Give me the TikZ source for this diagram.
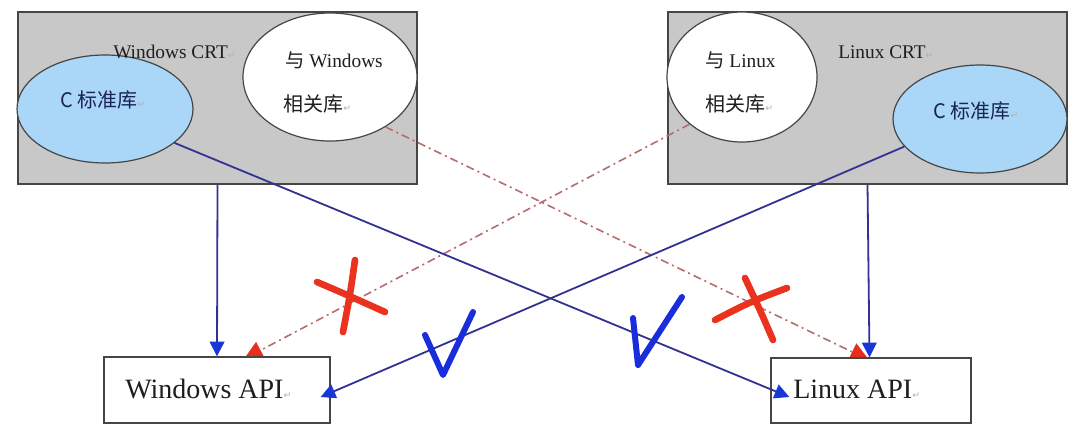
\documentclass[tikz,border=0pt]{standalone}
\usepackage{fontspec}
\setmainfont{Liberation Serif}
\newfontfamily\cjk{Noto Sans CJK SC}
\newfontfamily\dvsans{DejaVu Sans}
\usetikzlibrary{arrows.meta,calc,shapes.geometric}
\definecolor{boxgray}{RGB}{200,200,200}
\definecolor{ellblue}{RGB}{170,214,247}
\definecolor{linkblue}{RGB}{50,50,145}
\definecolor{tipblue}{RGB}{25,55,215}
\definecolor{markblue}{RGB}{25,45,220}
\definecolor{markred}{RGB}{235,50,30}
\definecolor{dashred}{RGB}{180,110,110}
\definecolor{tipred}{RGB}{230,45,30}
\definecolor{edgegray}{RGB}{70,70,70}
\definecolor{txt}{RGB}{30,30,30}
\definecolor{navytxt}{RGB}{25,35,85}
\newcommand\parmk{{\dvsans\fontsize{7}{7}\selectfont\textcolor{gray!60}{↵}}}
\tikzset{
  crtbox/.style={draw=edgegray, fill=boxgray, line width=1.1pt, minimum width=299.25pt, minimum height=129pt, inner sep=0pt},
  libell/.style={ellipse, draw=edgegray, line width=0.9pt, inner sep=0pt},
  apibox/.style={draw=edgegray, fill=white, line width=1pt, inner sep=0pt},
  lbl/.style={anchor=base west, inner sep=0pt, text=txt, font=\fontsize{14.5}{16}\selectfont},
  cjklbl/.style={anchor=base west, inner sep=0pt, text=txt, font=\fontsize{15}{17}\selectfont},
  apilbl/.style={anchor=base west, inner sep=0pt, text=txt, font=\fontsize{21}{24}\selectfont},
  bluelink/.style={draw=linkblue, line width=1.35pt, -{Triangle[length=11pt,width=11pt,fill=tipblue,color=tipblue]}},
  redlink/.style={draw=dashred, line width=1.2pt, dash pattern=on 6pt off 3pt on 1.5pt off 3pt, -{Triangle[length=14pt,width=14pt,fill=tipred,color=tipred]}},
  redmark/.style={draw=markred, line width=5pt, line cap=round, line join=round},
  bluemark/.style={draw=markblue, line width=4.5pt, line cap=round, line join=round}
}
\begin{document}
\begin{tikzpicture}[x=0.75pt,y=-0.75pt]
\useasboundingbox[fill=white] (0,0) rectangle (1080,424);
% CRT boxes
\node[crtbox] (lcrt) at (217.5,98) {};
\node[crtbox] (rcrt) at (867.5,98) {};
% ellipses
\node[libell, fill=ellblue, minimum width=132pt, minimum height=81pt] (lblue) at (105,109) {};
\node[libell, fill=white, minimum width=130.5pt, minimum height=96pt] (lwhite) at (330,77) {};
\node[libell, fill=white, minimum width=112.5pt, minimum height=97.5pt] (rwhite) at (742,77) {};
\node[libell, fill=ellblue, minimum width=130.5pt, minimum height=81pt] (rblue) at (980,119) {};
% labels in top
\node[lbl] (lcrtt) at (113,59) {Windows CRT\parmk};
\node[lbl] (rcrtt) at (838,59) {Linux CRT\parmk};
\node[lbl] (lwt1) at (285,68) {{\cjk 与} Windows};
\node[cjklbl] (lwt2) at (283,112) {{\cjk 相关库}\parmk};
\node[lbl] (rwt1) at (705,68) {{\cjk 与} Linux};
\node[cjklbl] (rwt2) at (705,112) {{\cjk 相关库}\parmk};
\node[cjklbl, text=navytxt] (lbt) at (60,108) {{\cjk C 标准库}\parmk};
\node[cjklbl, text=navytxt] (rbt) at (933,118) {{\cjk C 标准库}\parmk};
% red dash-dot links (under the API boxes)
\coordinate (wapin) at (217,357);
\coordinate (lapin) at (871,358);
\draw[redlink] (rwhite.-138) -- ($(wapin)+(27,2)$);
\draw[redlink] (lwhite.-42) -- ($(lapin)+(-2,2)$);
% API boxes
\node[apibox, minimum width=169.5pt, minimum height=49.5pt] (wapi) at (217,390) {};
\node[apibox, minimum width=150pt, minimum height=48.75pt] (lapi) at (871,390.5) {};
\node[apilbl] (wapit) at (125,398) {Windows API\parmk};
\node[apilbl] (lapit) at (793,398) {Linux API\parmk};
% blue links
\draw[bluelink] (lcrt.south) -- (wapi.north);
\draw[bluelink] (rcrt.south) -- ($(lapi.north)+(-1.5,0)$);
\draw[bluelink] (lblue.-26) -- ($(lapi.west)+(19,6.5)$);
\draw[bluelink] (rblue.200) -- ($(wapi.east)+(-10,7)$);
% hand-drawn marks
\draw[redmark] (317,282) .. controls (345,294) .. (385,312);
\draw[redmark] (355,260) .. controls (350,295) .. (343,332);
\draw[redmark] (715,320) .. controls (750,302) .. (787,288);
\draw[redmark] (745,278) .. controls (760,310) .. (773,340);
\draw[bluemark] (425,335) -- (443,375) -- (473,312);
\draw[bluemark] (633,318) -- (638,365) -- (682,297);
\end{tikzpicture}
\end{document}
